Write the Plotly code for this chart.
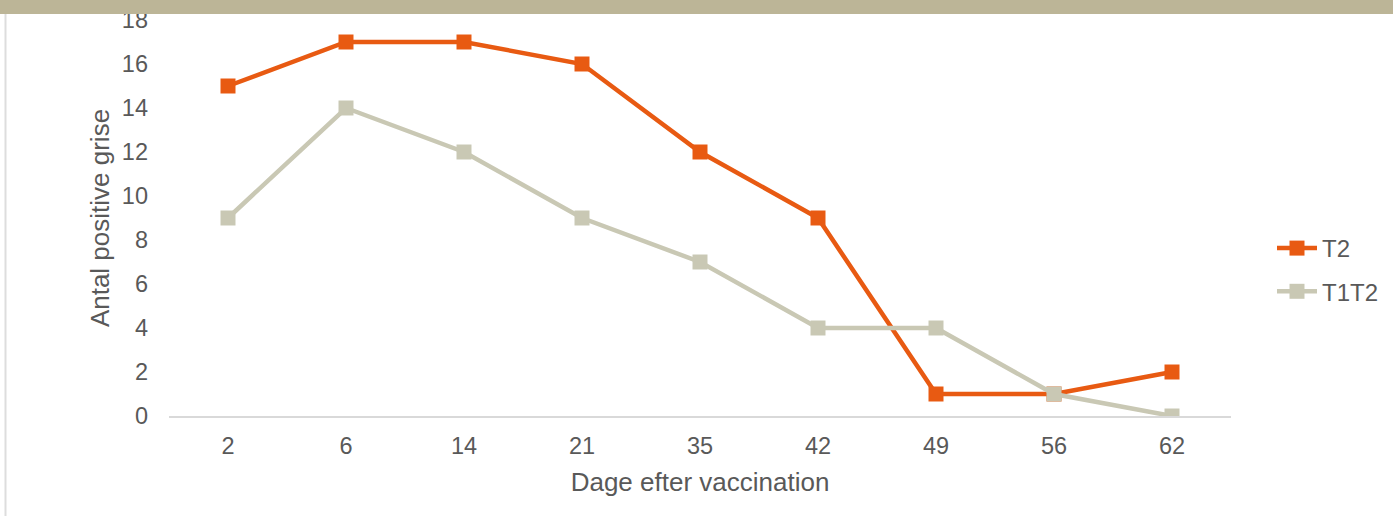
import plotly.graph_objects as go

days = ["2", "6", "14", "21", "35", "42", "49", "56", "62"]
t2 = [15, 17, 17, 16, 12, 9, 1, 1, 2]
t1t2 = [9, 14, 12, 9, 7, 4, 4, 1, 0]

W, H = 1393, 516
L, R, T, B = 169, 162, 20, 100
pw, ph = W - L - R, H - T - B

fig = go.Figure()
fig.add_trace(go.Scatter(x=days, y=t2, name="T2", mode="lines+markers", legendgroup="a",
                         line=dict(color="#E85A12", width=4.5),
                         marker=dict(symbol="square", size=15, color="#E85A12")))
fig.add_trace(go.Scatter(x=days, y=t1t2, name="T1T2", mode="lines+markers", legendgroup="b",
                         line=dict(color="#C9C8B4", width=4.5),
                         marker=dict(symbol="square", size=15, color="#C9C8B4")))

def py(pix):
    return (H - B - pix) / ph

def px(pix):
    return (pix - L) / pw

fig.update_layout(
    width=W, height=H,
    margin=dict(l=L, r=R, t=T, b=B, autoexpand=False),
    paper_bgcolor="white", plot_bgcolor="white",
    font=dict(family="Liberation Sans, Arial", color="#595959"),
    xaxis=dict(type="category", range=[-0.5, 8.5], showgrid=False,
               showline=True, linecolor="#D9D9D9", linewidth=2,
               ticks="", tickfont=dict(size=23.5, color="#595959"),
               ticklabelstandoff=8,
               title=dict(text="Dage efter vaccination", font=dict(size=26, color="#595959"), standoff=15)),
    yaxis=dict(range=[0, 18], dtick=2, showgrid=False, showline=False, zeroline=False,
               ticks="", tickfont=dict(size=23.5, color="#595959"),
               ticklabelstandoff=20,
               title=dict(text="Antal positive grise", font=dict(size=26, color="#595959"), standoff=4)),
    legend=dict(x=px(1272), y=py(226), xanchor="left", yanchor="top",
                font=dict(size=24, color="#595959"), tracegroupgap=9,
                itemwidth=40),
    showlegend=True,
)

fig.add_shape(type="rect", xref="paper", yref="paper",
              x0=px(0), x1=px(W), y0=py(14), y1=py(0),
              fillcolor="#BCB597", line=dict(width=0), layer="above")
fig.add_shape(type="line", xref="paper", yref="paper",
              x0=px(5.5), x1=px(5.5), y0=py(14), y1=py(H),
              line=dict(color="#DDDDDD", width=2), layer="above")

fig.write_html("out.html", config={"displayModeBar": False},
               post_script="document.body.style.margin='0';document.body.style.overflow='hidden';")
